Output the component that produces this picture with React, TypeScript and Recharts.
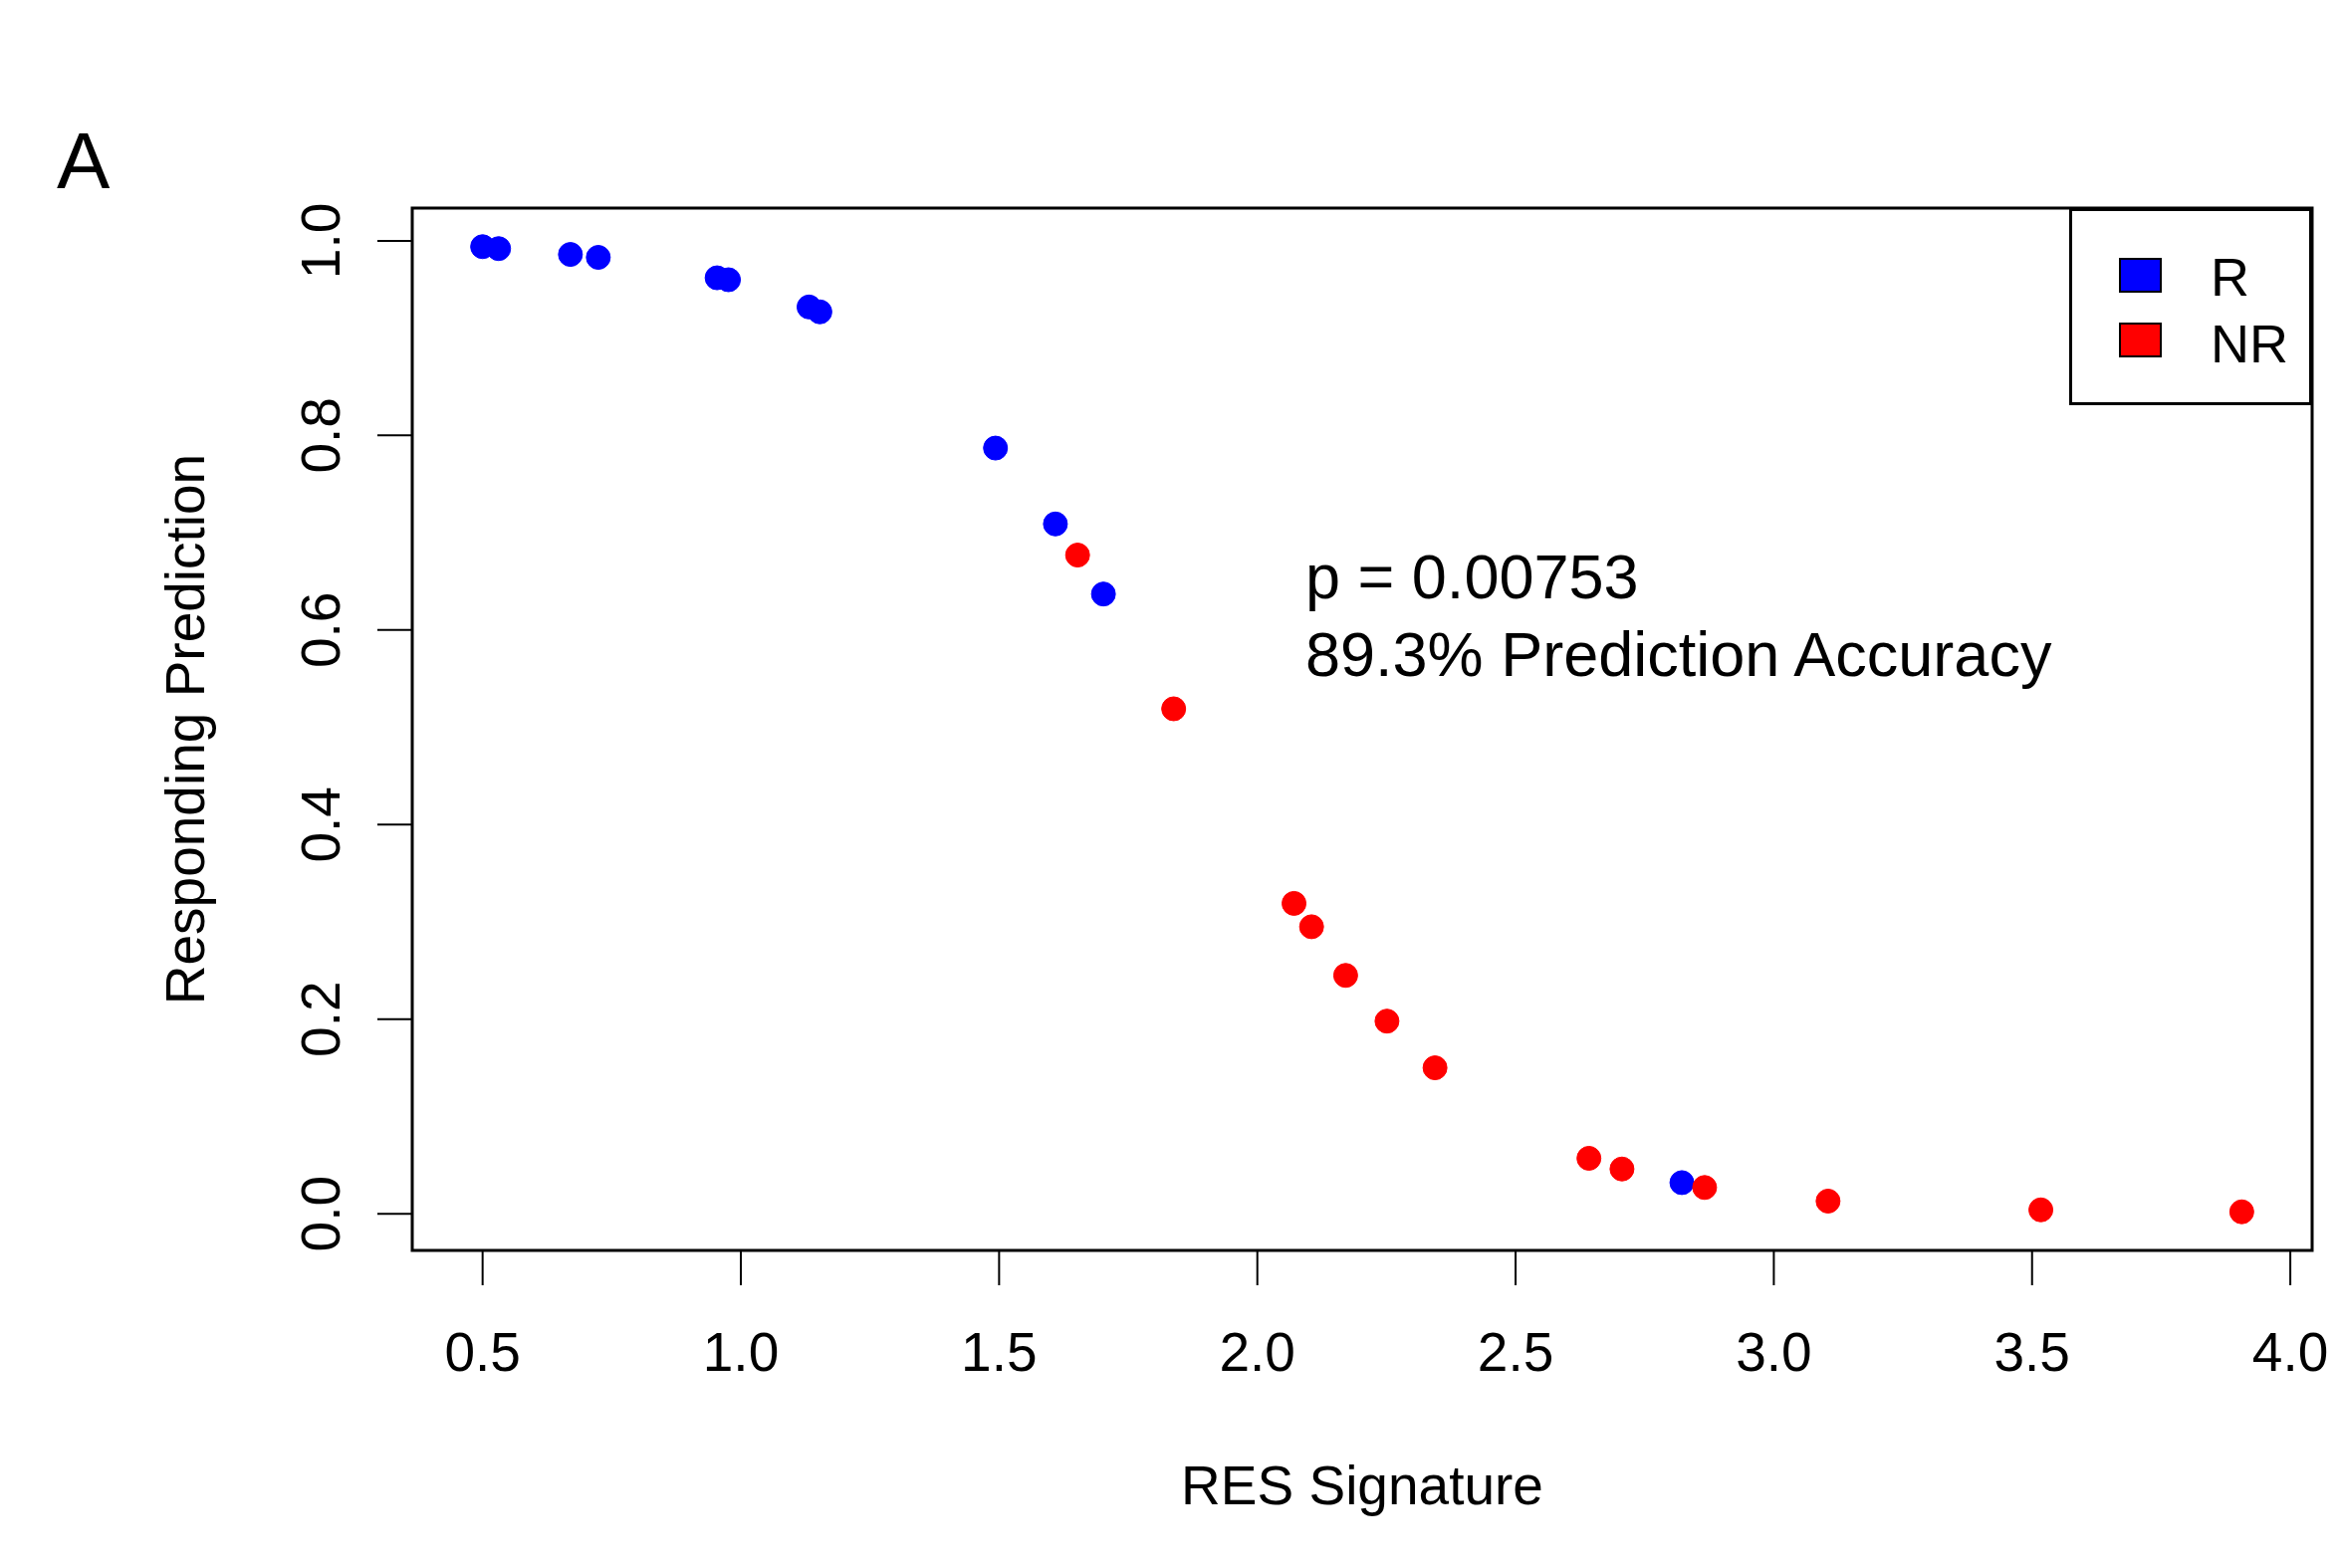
import React from "react";
import {
  ScatterChart,
  Scatter,
  XAxis,
  YAxis,
  ReferenceArea,
  Legend,
} from "recharts";

// responders (blue) and non-responders (red)
const rX = [0.5, 0.531, 0.67, 0.724, 0.954, 0.976, 1.132, 1.153, 1.493, 1.609, 1.702, 2.822];
const rY = [0.994, 0.992, 0.986, 0.983, 0.962, 0.96, 0.932, 0.927, 0.787, 0.709, 0.637, 0.032];
const nrX = [1.652, 1.838, 2.071, 2.105, 2.171, 2.251, 2.344, 2.642, 2.706, 2.866, 3.105, 3.517, 3.906];
const nrY = [0.677, 0.519, 0.319, 0.295, 0.245, 0.198, 0.15, 0.057, 0.046, 0.027, 0.013, 0.004, 0.002];

const groupNames = ["R", "NR"];
const xTicks = [0.5, 1.0, 1.5, 2.0, 2.5, 3.0, 3.5, 4.0];
const yTicks = [0, 0.2, 0.4, 0.6, 0.8, 1.0];

const FONT = "'Liberation Sans', Arial, sans-serif";
const W = 2352;
const H = 1575;
const PLOT = { left: 414, right: 2322, top: 209, bottom: 1256 };
const Y_AXIS_W = 120;
const X_AXIS_H = 100;

const rData = rX.map((x, i) => ({ x, y: rY[i] }));
const nrData = nrX.map((x, i) => ({ x, y: nrY[i] }));

// R-style 4% padding
const pad = (vals: number[]) => {
  const lo = Math.min(...vals);
  const hi = Math.max(...vals);
  const d = (hi - lo) * 0.04;
  return [lo - d, hi + d];
};
const xDomain = pad([...rX, ...nrX]);
const yDomain = pad([...rY, ...nrY]);

const Dot = (color: string) => (props: any) => (
  <circle cx={props.cx} cy={props.cy} r={12} fill={color} stroke={color} strokeWidth={1} />
);

const XTick = ({ x, payload }: any) => (
  <text x={x} y={PLOT.bottom + 121} textAnchor="middle" fontSize={55} fontFamily={FONT} fill="#000">
    {Number(payload.value).toFixed(1)}
  </text>
);

const YTick = ({ y, payload }: any) => {
  const bx = 341;
  return (
    <text
      x={bx}
      y={y}
      transform={`rotate(-90, ${bx}, ${y})`}
      textAnchor="middle"
      fontSize={55}
      fontFamily={FONT}
      fill="#000"
    >
      {Number(payload.value).toFixed(1)}
    </text>
  );
};

const LegendBox = ({ payload }: any) => {
  const items = groupNames
    .map((n) => (payload || []).find((p: any) => p.value === n))
    .filter(Boolean);
  return (
    <svg width={244} height={198} style={{ display: "block" }}>
      <rect x={1.5} y={1.5} width={241} height={195} fill="#fff" stroke="#000" strokeWidth={3} />
      {items.map((it: any, i: number) => (
        <g key={`leg-${i}`}>
          <rect x={51} y={51 + i * 65} width={41} height={33} fill={it.color} stroke="#000" strokeWidth={2} />
          <text x={142} y={88 + i * 67} fontSize={54} fontFamily={FONT} fill="#000">
            {it.value}
          </text>
        </g>
      ))}
    </svg>
  );
};

export default function App() {
  return (
    <div style={{ position: "absolute", left: 0, top: 0, width: W, height: H, background: "#fff" }}>
      <ScatterChart
        width={W}
        height={H}
        margin={{
          top: PLOT.top,
          right: W - PLOT.right,
          bottom: H - PLOT.bottom - X_AXIS_H,
          left: PLOT.left - Y_AXIS_W,
        }}
      >
        <XAxis
          type="number"
          dataKey="x"
          domain={xDomain}
          allowDataOverflow
          ticks={xTicks}
          interval={0}
          height={X_AXIS_H}
          axisLine={false}
          tickSize={35}
          tickLine={{ stroke: "#000", strokeWidth: 2 }}
          tick={<XTick />}
        />
        <YAxis
          type="number"
          dataKey="y"
          domain={yDomain}
          allowDataOverflow
          ticks={yTicks}
          interval={0}
          width={Y_AXIS_W}
          axisLine={false}
          tickSize={35}
          tickLine={{ stroke: "#000", strokeWidth: 2 }}
          tick={<YTick />}
        />
        <ReferenceArea
          x1={xDomain[0]}
          x2={xDomain[1]}
          y1={yDomain[0]}
          y2={yDomain[1]}
          fill="none"
          fillOpacity={0}
          stroke="#000"
          strokeWidth={3}
        />
        <Scatter name="R" data={rData} fill="#0000ff" shape={Dot("#0000ff")} isAnimationActive={false} />
        <Scatter name="NR" data={nrData} fill="#ff0000" shape={Dot("#ff0000")} isAnimationActive={false} />
        <Legend
          layout="horizontal"
          align="center"
          verticalAlign="middle"
          content={<LegendBox />}
          wrapperStyle={{ position: "absolute", left: 2078, top: PLOT.top, width: 244, height: 198 }}
        />
      </ScatterChart>
      <svg
        width={W}
        height={H}
        style={{ position: "absolute", left: 0, top: 0, pointerEvents: "none" }}
      >
        <text x={57} y={189} fontSize={80} fontFamily={FONT} fill="#000">
          A
        </text>
        <text x={1311} y={601} fontSize={63} fontFamily={FONT} fill="#000">
          p = 0.00753
        </text>
        <text x={1311} y={679} fontSize={63} fontFamily={FONT} fill="#000">
          89.3% Prediction Accuracy
        </text>
        <text x={(PLOT.left + PLOT.right) / 2} y={1511} textAnchor="middle" fontSize={55} fontFamily={FONT} fill="#000">
          RES Signature
        </text>
        <text
          x={205}
          y={(PLOT.top + PLOT.bottom) / 2}
          transform={`rotate(-90, 205, ${(PLOT.top + PLOT.bottom) / 2})`}
          textAnchor="middle"
          fontSize={55}
          fontFamily={FONT}
          fill="#000"
        >
          Responding Prediction
        </text>
      </svg>
    </div>
  );
}
